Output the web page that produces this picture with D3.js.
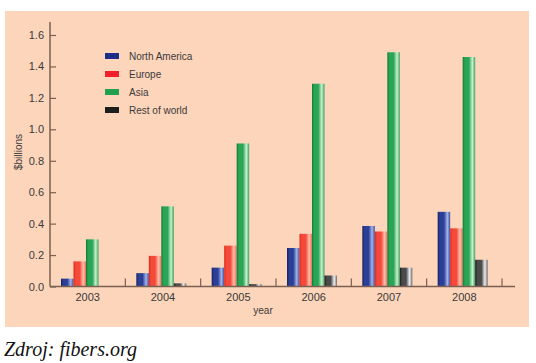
<!DOCTYPE html>
<html>
<head>
<meta charset="utf-8">
<script src="https://cdn.jsdelivr.net/npm/d3@7"></script>
<style>
  body { margin: 0; background: #fff; }
  svg { display: block; }
</style>
</head>
<body>
<div id="chart"></div>
<script>
// chart data
const years = ['2003', '2004', '2005', '2006', '2007', '2008'];
const seriesNames = ['North America', 'Europe', 'Asia', 'Rest of world'];
const northAmerica = [0.05, 0.085, 0.12, 0.245, 0.385, 0.475];
const europe = [0.16, 0.195, 0.26, 0.335, 0.35, 0.37];
const asia = [0.30, 0.51, 0.91, 1.29, 1.49, 1.46];
const restOfWorld = [0, 0.02, 0.015, 0.07, 0.12, 0.17];
const yTicks = [0, 0.2, 0.4, 0.6, 0.8, 1.0, 1.2, 1.4, 1.6];

const W = 536, H = 363;
const axisColor = '#7b5f52';
const textColor = '#3a3a3a';
const sans = '"Liberation Sans", Arial, sans-serif';

// gradient stops per series: dark edge, body, highlight, right edge
const palette = [
  { key: 'blue', swatch: '#1c2f86', stops: ['#16215e', '#2b3f97', '#a4b3ea', '#3a4d9c'] },
  { key: 'red', swatch: '#f2202a', stops: ['#d92a1e', '#f5493a', '#ffc0ae', '#f26a55'] },
  { key: 'green', swatch: '#23a04c', stops: ['#117a35', '#2aa455', '#c9f0cf', '#3aa25c'] },
  { key: 'black', swatch: '#1e1e1e', stops: ['#1a1a1a', '#4a4a4a', '#eeeeee', '#6a6a6a'] }
];

const data = years.map((y, i) => ({
  year: y,
  values: [northAmerica[i], europe[i], asia[i], restOfWorld[i]]
}));

const svg = d3.select('#chart').append('svg')
  .attr('width', W)
  .attr('height', H);

const defs = svg.append('defs');
palette.forEach(p => {
  const g = defs.append('linearGradient')
    .attr('id', 'grad-' + p.key)
    .attr('x1', '0%').attr('x2', '100%')
    .attr('y1', '0%').attr('y2', '0%');
  g.append('stop').attr('offset', '0%').attr('stop-color', p.stops[0]);
  g.append('stop').attr('offset', '18%').attr('stop-color', p.stops[1]);
  g.append('stop').attr('offset', '50%').attr('stop-color', p.stops[1]);
  g.append('stop').attr('offset', '78%').attr('stop-color', p.stops[2]);
  g.append('stop').attr('offset', '100%').attr('stop-color', p.stops[3]);
});

// peach panel
svg.append('rect')
  .attr('x', 5).attr('y', 11)
  .attr('width', 524).attr('height', 316)
  .attr('fill', '#fdd5bb');

const x0 = d3.scaleBand().domain(years).range([50, 502]);
const x1 = d3.scaleBand().domain(d3.range(4)).range([11, 61]);
const y = d3.scaleLinear().domain([0, 1.6]).range([286.5, 35]);

// bars
const groups = svg.selectAll('.grp')
  .data(data)
  .enter().append('g')
  .attr('class', 'grp')
  .attr('transform', d => 'translate(' + x0(d.year) + ',0)');

groups.selectAll('rect')
  .data(d => d.values)
  .enter().append('rect')
  .attr('x', (d, i) => x1(i))
  .attr('width', x1.bandwidth())
  .attr('y', d => y(d))
  .attr('height', d => y(0) - y(d))
  .attr('fill', (d, i) => 'url(#grad-' + palette[i].key + ')');

// y axis
const yAxis = svg.append('g')
  .attr('transform', 'translate(50,0)')
  .call(d3.axisLeft(y).tickValues(yTicks).tickFormat(d3.format('.1f')).tickSize(-6).tickPadding(6).tickSizeOuter(0));
yAxis.select('.domain').remove();
yAxis.selectAll('line').attr('stroke', axisColor).attr('stroke-width', 1.2);
yAxis.selectAll('text')
  .attr('fill', textColor)
  .style('font-family', sans)
  .style('font-size', '11px');
yAxis.append('line')
  .attr('x1', 0).attr('x2', 0)
  .attr('y1', 22).attr('y2', y(0))
  .attr('stroke', axisColor).attr('stroke-width', 1.5);

// x axis
const xAxis = svg.append('g')
  .attr('transform', 'translate(0,' + y(0) + ')');
xAxis.append('line')
  .attr('x1', 50).attr('x2', 515)
  .attr('stroke', axisColor).attr('stroke-width', 1.5);
xAxis.selectAll('.tk')
  .data(years.slice(1).concat(['end']))
  .enter().append('line')
  .attr('class', 'tk')
  .attr('x1', d => d === 'end' ? x0.range()[1] : x0(d))
  .attr('x2', d => d === 'end' ? x0.range()[1] : x0(d))
  .attr('y1', 0).attr('y2', -8)
  .attr('stroke', axisColor).attr('stroke-width', 1.2);
xAxis.selectAll('.yl')
  .data(years)
  .enter().append('text')
  .attr('class', 'yl')
  .attr('x', d => x0(d) + x0.bandwidth() / 2)
  .attr('y', 14)
  .attr('text-anchor', 'middle')
  .attr('fill', textColor)
  .style('font-family', sans)
  .style('font-size', '11px')
  .text(d => d);

// axis titles
svg.append('text')
  .attr('x', 263).attr('y', 314)
  .attr('text-anchor', 'middle')
  .attr('fill', textColor)
  .style('font-family', sans)
  .style('font-size', '10px')
  .text('year');

svg.append('text')
  .attr('transform', 'translate(22,152) rotate(-90)')
  .attr('text-anchor', 'middle')
  .attr('fill', textColor)
  .style('font-family', sans)
  .style('font-size', '10px')
  .text('$billions');

// legend
const legend = svg.append('g').attr('transform', 'translate(105,53)');
const li = legend.selectAll('g')
  .data(seriesNames)
  .enter().append('g')
  .attr('transform', (d, i) => 'translate(0,' + i * 18 + ')');
li.append('rect')
  .attr('width', 14).attr('height', 6)
  .attr('fill', (d, i) => palette[i].swatch);
li.append('text')
  .attr('x', 24).attr('y', 7)
  .attr('fill', textColor)
  .style('font-family', sans)
  .style('font-size', '10px')
  .text(d => d);

// source note
svg.append('text')
  .attr('x', 4).attr('y', 356)
  .attr('fill', '#111')
  .style('font-family', '"Liberation Serif", "DejaVu Serif", serif')
  .style('font-style', 'italic')
  .style('font-size', '20px')
  .text('Zdroj: fibers.org');
</script>
</body>
</html>
